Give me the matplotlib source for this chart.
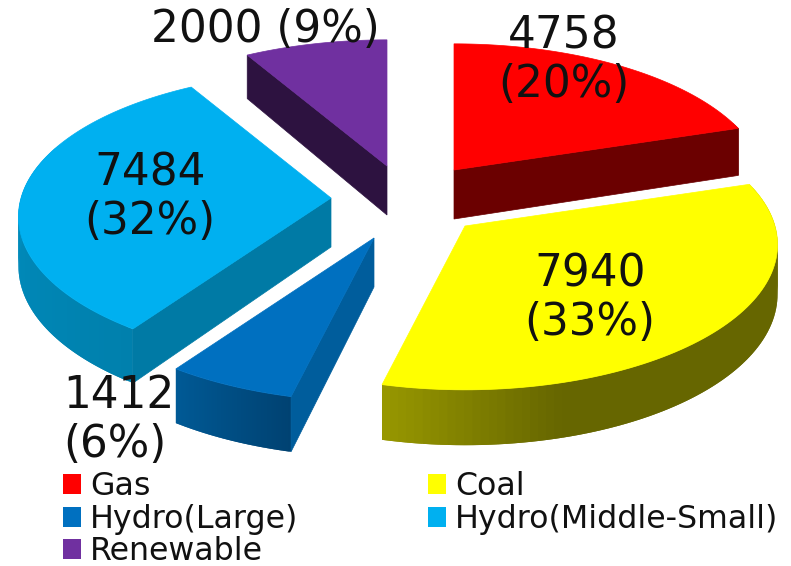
import numpy as np
import matplotlib
matplotlib.use("Agg")
import matplotlib.pyplot as plt
from matplotlib.patches import Patch, Polygon
from matplotlib.colors import to_rgb

# data
names = ["Gas", "Coal", "Hydro(Large)", "Hydro(Middle-Small)", "Renewable"]
values = [4758, 7940, 1412, 7484, 2000]
percents = [20, 33, 6, 32, 9]

colors = ["#ff0000", "#ffff00", "#0070c0", "#00b0f0", "#7030a0"]
side_colors = ["#6b0000", "#666600", "#005d9c", "#007aa5", "#2d1240"]
# outer wall shading, colour at the start and end of each slice
wall_start = ["#6b0000", "#666600", "#004272", "#0080ad", "#2d1240"]
wall_end = ["#6b0000", "#999900", "#005a96", "#0098cc", "#2d1240"]
# which cut face shows: start edge of the slice, or end edge
cut_edge = ["end", None, "start", "start", "start"]

# apex of each slice in pixels
apex_x = [454, 465, 374, 331, 387]
apex_y = [170, 226, 238, 198, 166]
label_x = [564, 590, 63, 150, 265]
label_y = [60, 298, 420, 197, 30]

RX, RY, DEPTH, PERSP = 310, 145, 49, 0.13


def rim(theta, cx, cy, drop=0):
    c = np.cos(theta)
    s = 1 - PERSP * c
    return cx + RX * s * np.sin(theta), cy - RY * s * c + drop * s


fig = plt.figure(figsize=(7.91, 5.66), dpi=100)
ax = fig.add_axes([0, 0, 1, 1])
ax.set_xlim(0, 791)
ax.set_ylim(566, 0)
ax.axis("off")

total = sum(values)
edges = np.radians(np.concatenate([[0], np.cumsum(values)]) / total * 360)

for i in range(len(values)):
    t0, t1 = edges[i], edges[i + 1]
    cx, cy = apex_x[i], apex_y[i]
    theta = np.linspace(t0, t1, 90)
    x, y = rim(theta, cx, cy)
    xb, yb = rim(theta, cx, cy, DEPTH)

    # outer wall as overlapping shaded strips, so no seams show
    a, b = np.array(to_rgb(wall_start[i])), np.array(to_rgb(wall_end[i]))
    for j in range(len(theta) - 1):
        if np.cos(theta[j]) > 0.35 and i != 1:
            continue
        f = min(1, max(0, (j / 89 - 0.75) / 0.25)) if i == 1 else j / 89
        col = a + (b - a) * f
        k = min(j + 2, len(theta) - 1)
        ax.add_patch(Polygon([(x[j], y[j]), (x[k], y[k]), (xb[k], yb[k]), (xb[j], yb[j])],
                             closed=True, fc=col, ec="none", zorder=2 + i))

    # cut face
    if cut_edge[i]:
        k = 0 if cut_edge[i] == "start" else -1
        ax.add_patch(Polygon([(cx, cy), (x[k], y[k]), (xb[k], yb[k]), (cx, cy + DEPTH)],
                             closed=True, fc=side_colors[i], ec=side_colors[i], lw=0.5, zorder=2 + i))

    # top face
    ax.add_patch(Polygon(np.vstack([[cx, cy], np.column_stack([x, y])]),
                         closed=True, fc=colors[i], ec=colors[i], lw=0.5, zorder=8 + i))

for i, v in enumerate(values):
    if i == 4:
        txt = f"{v} ({percents[i]}%)"
    else:
        txt = f"{v}\n({percents[i]}%)"
    ax.text(label_x[i], label_y[i], txt, fontsize=31.5, color="#111111", linespacing=1.17,
            ha="left" if i == 2 else "center", va="center", multialignment="left" if i == 2 else "center", zorder=20)

order = [0, 2, 4, 1, 3]
handles = [Patch(fc=colors[i], ec="none", label=names[i]) for i in order]
ax.legend(handles=handles, ncol=2, frameon=False, loc="upper left", bbox_to_anchor=(0.0797, 0.1675),
          fontsize=22.8, handlelength=0.57, handleheight=0.6, handletextpad=0.28,
          columnspacing=4.1, labelspacing=0.05, borderpad=0, borderaxespad=0, labelcolor="#111111")

fig.savefig("out.png", dpi=100)
